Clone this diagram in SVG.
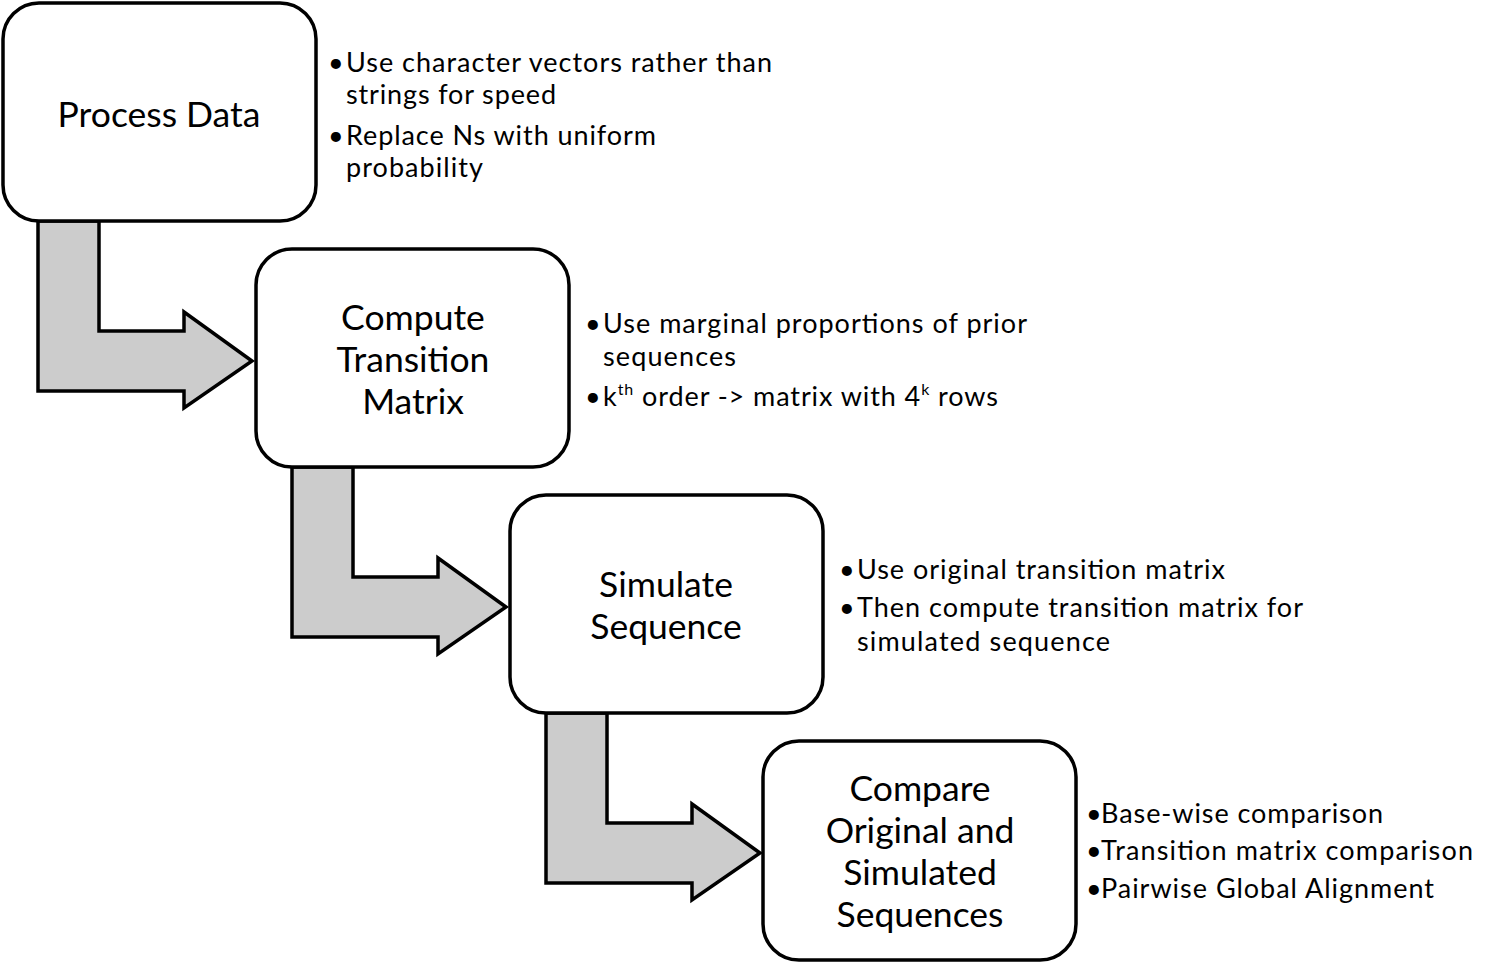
<svg xmlns="http://www.w3.org/2000/svg" width="1502" height="963" viewBox="0 0 1502 963">
<style>
.box{fill:#fff;stroke:#000;stroke-width:3.5}
.arr{fill:#cccccc;stroke:#000;stroke-width:3.5;stroke-linejoin:miter}
.t{font-family:Lato,"Open Sans",sans-serif;font-size:35.5px;fill:#000;text-anchor:middle}
.b{font-family:Lato,"Open Sans",sans-serif;font-size:27px;fill:#000}
.sup{font-size:16px}
</style>
<rect width="1502" height="963" fill="#fff"/>
<g id="connectors">
<path class="arr" d="M38,221 L99,221 L99,331 L184,331 L184,312 L252,361 L184,408 L184,391 L38,391 Z"/>
<path class="arr" d="M292,467 L353,467 L353,577 L438,577 L438,558 L506,607 L438,654 L438,637 L292,637 Z"/>
<path class="arr" d="M546,713 L607,713 L607,823 L692,823 L692,804 L760,853 L692,900 L692,883 L546,883 Z"/>
</g>
<g id="node1">
<rect class="box" x="3" y="3" width="313" height="218" rx="36"/>
<text class="t" x="159" y="127">Process Data</text>
<text class="b" x="328" y="72">•</text>
<text class="b" x="346" y="72" textLength="426" lengthAdjust="spacing">Use character vectors rather than</text>
<text class="b" x="346" y="104" textLength="210" lengthAdjust="spacing">strings for speed</text>
<text class="b" x="328" y="145">•</text>
<text class="b" x="346" y="145" textLength="310" lengthAdjust="spacing">Replace Ns with uniform</text>
<text class="b" x="346" y="177" textLength="137" lengthAdjust="spacing">probability</text>
</g>
<g id="node2">
<rect class="box" x="256" y="249" width="313" height="218" rx="36"/>
<text class="t" x="413" y="330">Compute</text>
<text class="t" x="413" y="372">Transition</text>
<text class="t" x="413" y="414">Matrix</text>
<text class="b" x="585" y="333">•</text>
<text class="b" x="603" y="333" textLength="424" lengthAdjust="spacing">Use marginal proportions of prior</text>
<text class="b" x="603" y="366" textLength="133" lengthAdjust="spacing">sequences</text>
<text class="b" x="585" y="406">•</text>
<text class="b" x="603" y="406" textLength="395" lengthAdjust="spacing">k<tspan class="sup" dy="-11">th</tspan><tspan dy="11"> order -&gt; matrix with 4</tspan><tspan class="sup" dy="-11">k</tspan><tspan dy="11"> rows</tspan></text>
</g>
<g id="node3">
<rect class="box" x="510" y="495" width="313" height="218" rx="36"/>
<text class="t" x="666" y="597">Simulate</text>
<text class="t" x="666" y="639">Sequence</text>
<text class="b" x="839" y="579">•</text>
<text class="b" x="857" y="579" textLength="368" lengthAdjust="spacing">Use original transition matrix</text>
<text class="b" x="839" y="617">•</text>
<text class="b" x="857" y="617" textLength="446" lengthAdjust="spacing">Then compute transition matrix for</text>
<text class="b" x="857" y="651" textLength="253" lengthAdjust="spacing">simulated sequence</text>
</g>
<g id="node4">
<rect class="box" x="763" y="741" width="313" height="219" rx="36"/>
<text class="t" x="920" y="801">Compare</text>
<text class="t" x="920" y="843">Original and</text>
<text class="t" x="920" y="885">Simulated</text>
<text class="t" x="920" y="927">Sequences</text>
<text class="b" x="1086" y="823">•</text>
<text class="b" x="1101" y="823" textLength="282" lengthAdjust="spacing">Base-wise comparison</text>
<text class="b" x="1086" y="860">•</text>
<text class="b" x="1101" y="860" textLength="372" lengthAdjust="spacing">Transition matrix comparison</text>
<text class="b" x="1086" y="898">•</text>
<text class="b" x="1101" y="898" textLength="333" lengthAdjust="spacing">Pairwise Global Alignment</text>
</g>
</svg>
